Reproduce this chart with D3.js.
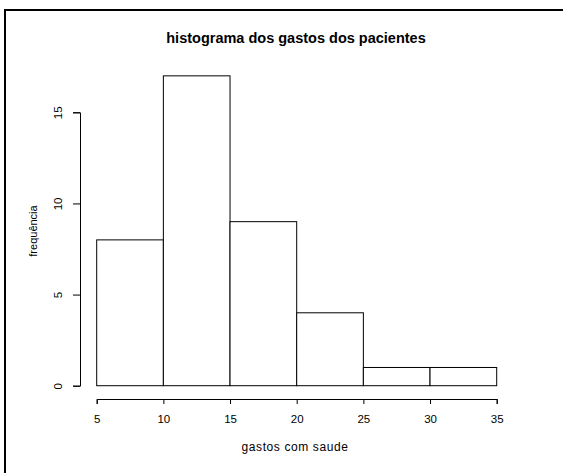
<!DOCTYPE html>
<html>
<head>
<meta charset="utf-8">
<script src="https://cdn.jsdelivr.net/npm/d3@7"></script>
<style>
  body { margin: 0; background: #fff; }
  text { font-family: 'Liberation Sans', Arial, sans-serif; fill: #000; }
</style>
</head>
<body>
<div id="chart"></div>
<script>
// histogram bins (gastos com saude) and counts
var binStart = [5, 10, 15, 20, 25, 30];
var binEnd = [10, 15, 20, 25, 30, 35];
var counts = [8, 17, 9, 4, 1, 1];
var xTicks = [5, 10, 15, 20, 25, 30, 35];
var yTicks = [0, 5, 10, 15];

var W = 563, H = 473;

var svg = d3.select('#chart')
    .append('svg')
    .attr('width', W)
    .attr('height', H);

svg.append('rect')
    .attr('width', W)
    .attr('height', H)
    .style('fill', '#fff');

// frame, only top and left edge visible
svg.append('path')
    .attr('d', 'M5,' + H + ' V10 H' + W)
    .style('fill', 'none')
    .style('stroke', '#000')
    .style('stroke-width', 2);

var x = d3.scaleLinear().domain([5, 35]).range([96.7, 496.7]);
var y = d3.scaleLinear().domain([0, 15]).range([385.7, 112.3]);

var bins = binStart.map(function(d, i) {
    return {x0: d, x1: binEnd[i], n: counts[i]};
});

svg.selectAll('.bar')
    .data(bins)
    .enter()
    .append('rect')
    .attr('class', 'bar')
    .attr('x', function(d) { return x(d.x0); })
    .attr('y', function(d) { return y(d.n); })
    .attr('width', function(d) { return x(d.x1) - x(d.x0); })
    .attr('height', function(d) { return y(0) - y(d.n); })
    .style('fill', '#fff')
    .style('stroke', '#000')
    .style('stroke-width', 1);

var xAxis = svg.append('g')
    .attr('transform', 'translate(0,399)')
    .call(d3.axisBottom(x).tickValues(xTicks).tickSize(5).tickPadding(11));

var yAxis = svg.append('g')
    .attr('transform', 'translate(80,0)')
    .call(d3.axisLeft(y).tickValues(yTicks).tickSize(7).tickPadding(7));

[xAxis, yAxis].forEach(function(g) {
    g.select('.domain').style('stroke', '#000');
    g.selectAll('.tick line').style('stroke', '#000');
    g.selectAll('text')
        .style('font-family', "'Liberation Sans', Arial, sans-serif")
        .style('font-size', '11.5px')
        .style('fill', '#000');
});

// rotate y tick labels like base R
yAxis.selectAll('.tick text')
    .attr('x', null)
    .attr('dy', null)
    .attr('text-anchor', 'middle')
    .attr('transform', 'translate(-18,0) rotate(-90)');

svg.append('text')
    .attr('x', 296)
    .attr('y', 43)
    .attr('text-anchor', 'middle')
    .style('font-size', '14.5px')
    .style('font-weight', 'bold')
    .text('histograma dos gastos dos pacientes');

svg.append('text')
    .attr('x', 295)
    .attr('y', 451)
    .attr('text-anchor', 'middle')
    .style('font-size', '12px')
    .style('letter-spacing', '0.6px')
    .text('gastos com saude');

svg.append('text')
    .attr('transform', 'translate(37,231) rotate(-90)')
    .attr('text-anchor', 'middle')
    .style('font-size', '11px')
    .text('frequência');
</script>
</body>
</html>
